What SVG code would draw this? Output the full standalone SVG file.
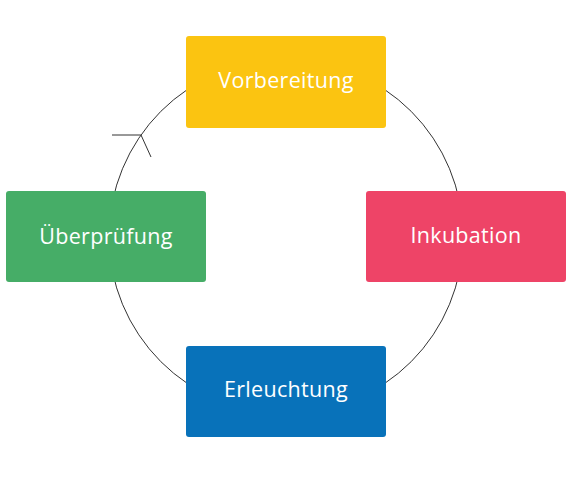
<svg xmlns="http://www.w3.org/2000/svg" width="579" height="480" viewBox="0 0 579 480">
<style>
.lbl{font-family:"Open Sans","Liberation Sans",sans-serif;font-size:21.5px;font-weight:500;fill:#ffffff;text-anchor:middle;font-variant-ligatures:none;letter-spacing:0.3px}
.con{fill:none;stroke:#333333;stroke-width:1}
</style>
<rect width="579" height="480" fill="#ffffff"/>
<g id="connectors">
<circle class="con" cx="286" cy="236.5" r="177"/>
<path class="con" d="M112,135 L141,135 L151,157"/>
</g>
<g id="vorbereitung">
<rect x="186" y="36" width="200" height="92" rx="3" fill="#FBC411"/>
<text class="lbl" x="286" y="87.5">Vorbereitung</text>
</g>
<g id="inkubation">
<rect x="366" y="191" width="200" height="91" rx="3" fill="#EE4467"/>
<text class="lbl" x="466" y="243">Inkubation</text>
</g>
<g id="erleuchtung">
<rect x="186" y="346" width="200" height="91" rx="3" fill="#0872BA"/>
<text class="lbl" x="286" y="397">Erleuchtung</text>
</g>
<g id="ueberpruefung">
<rect x="6" y="191" width="200" height="91" rx="3" fill="#46AD67"/>
<text class="lbl" x="106" y="244">Überprüfung</text>
</g>
</svg>
